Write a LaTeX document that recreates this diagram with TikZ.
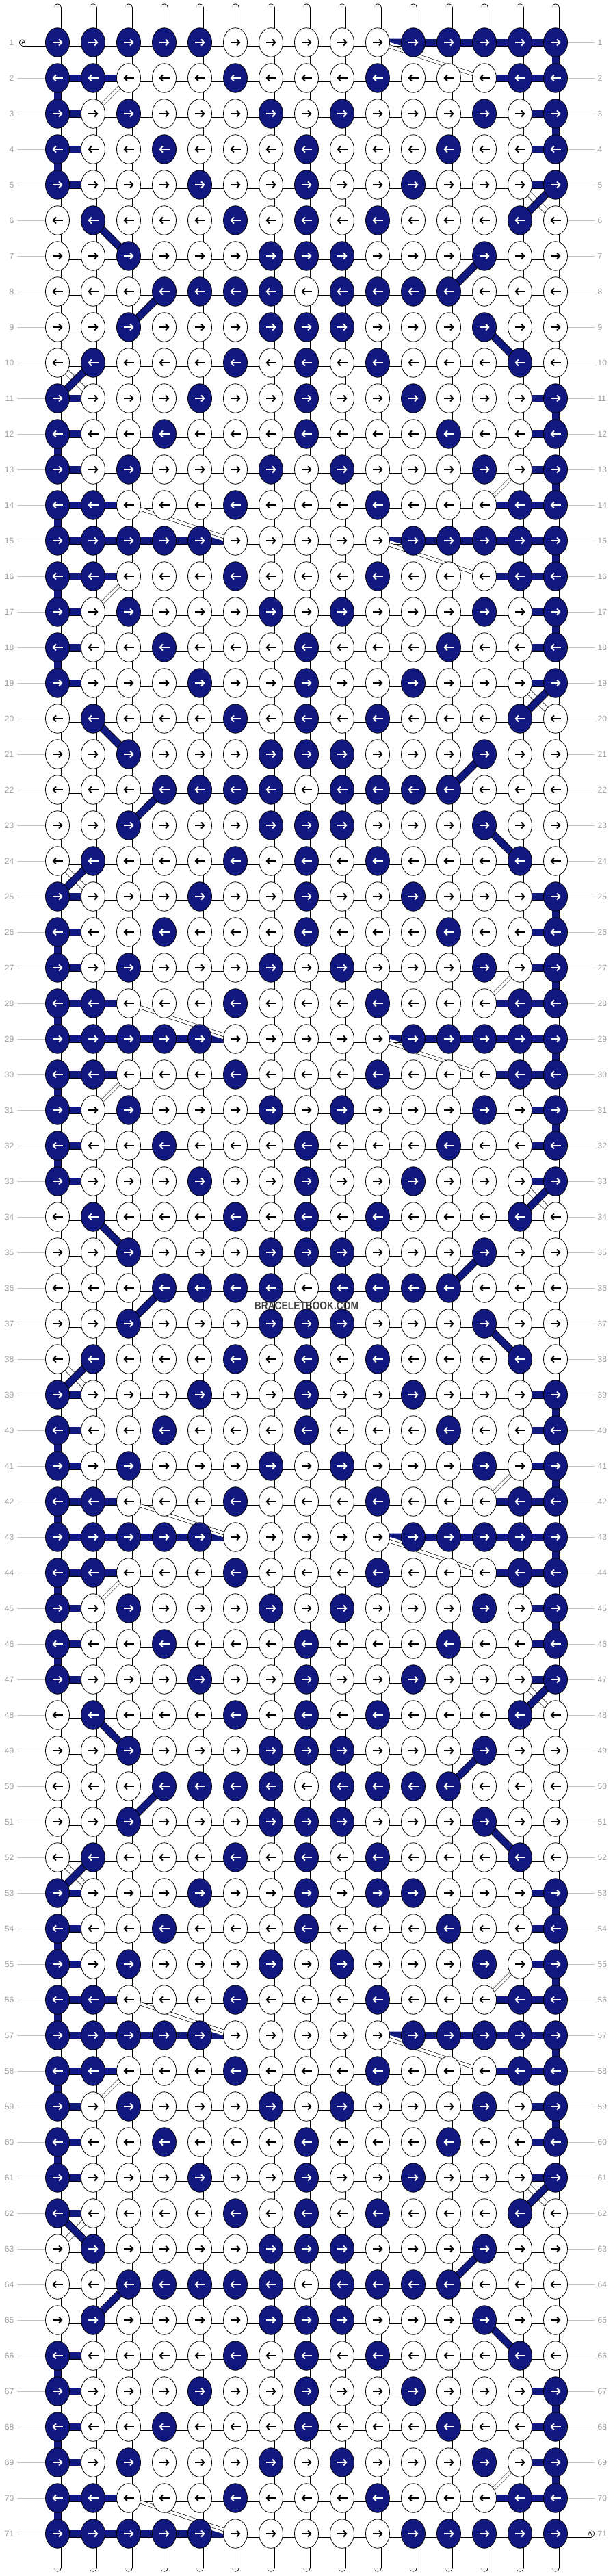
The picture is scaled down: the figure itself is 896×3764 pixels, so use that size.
\documentclass[tikz,border=0pt]{standalone}
\usepackage{fontspec}
\setmainfont{Liberation Sans}
\usetikzlibrary{arrows.meta,shapes.geometric}
\definecolor{nv}{RGB}{17,24,128}
\definecolor{lblc}{RGB}{155,155,155}
\definecolor{lnc}{RGB}{192,192,192}
\pgfdeclarelayer{bg}
\pgfdeclarelayer{mid}
\pgfsetlayers{bg,mid,main}
\newcount\kbl
\tikzset{
 knotw/.style={ellipse,draw=black,line width=.8pt,fill=white,minimum width=35pt,minimum height=42.5pt,inner sep=0pt,outer sep=0pt},
 knotb/.style={knotw,fill=nv},
 arrw/.style={line width=2pt,-{Straight Barb[length=4pt,width=9pt]}},
 hw/.style={draw=black,line width=.8pt,double=white,double distance=9.4pt},
 hb/.style={draw=black,line width=.8pt,double=nv,double distance=9.4pt},
 vw/.style={hw,postaction={draw=gray!55,line width=.5pt,double=white,double distance=3.5pt}},
 dwt/.style={draw=black,line width=.6pt,double=white,double distance=4pt},
 dwk/.style={draw=black,line width=.7pt,double=white,double distance=7pt},
 lbl/.style={draw=lnc,line width=.9pt},
 num/.style={text=lblc,font=\fontsize{12}{12}\selectfont,inner sep=0pt},
}
\newcommand\kr[2]{%
 \foreach \c in {1,...,15}{%
  \global\kbl=0
  \foreach \b in {#2}{\ifnum\b=\c\relax\global\kbl=1\fi}%
  \ifnum\kbl=1
   \node[knotb] (k#1-\c) at ({84+52*(\c-1)},{62+52*(#1-1)}) {};
   \def\ac{white}%
  \else
   \node[knotw] (k#1-\c) at ({84+52*(\c-1)},{62+52*(#1-1)}) {};
   \def\ac{black}%
  \fi
  \ifodd#1\relax
   \draw[arrw,color=\ac] ([xshift=-7.5pt]k#1-\c.center) -- ([xshift=7.5pt]k#1-\c.center);
  \else
   \draw[arrw,color=\ac] ([xshift=7.5pt]k#1-\c.center) -- ([xshift=-7.5pt]k#1-\c.center);
  \fi
 }}
\newcommand\HB[2]{\foreach \c in {#2}{\pgfmathtruncatemacro\cn{\c+1}\draw[hb] (k#1-\c.center) -- (k#1-\cn.center);}}
\newcommand\DG[5]{\pgfmathtruncatemacro\ra{#2}\pgfmathtruncatemacro\rb{#4}\draw[#1] (k\ra-#3.center) -- (k\rb-#5.center);}
\newcommand\WL[1]{\fill[nv] ([xshift=-2pt,yshift=5.5pt]k#1-5.east) -- ([xshift=2pt,yshift=-1pt]k#1-6.west) -- ([xshift=2pt,yshift=-5.5pt]k#1-6.west) -- ([xshift=-2pt,yshift=-5.5pt]k#1-5.east) -- cycle;}
\newcommand\WR[1]{\fill[nv] ([xshift=2pt,yshift=-5.5pt]k#1-11.west) -- ([xshift=-2pt,yshift=1pt]k#1-10.east) -- ([xshift=-2pt,yshift=5.5pt]k#1-10.east) -- ([xshift=2pt,yshift=5.5pt]k#1-11.west) -- cycle;}
\begin{document}
\begin{tikzpicture}[x=1pt,y=-1pt]
\useasboundingbox (0,0) rectangle (896,3764);
% ---------------- knots ----------------
\kr{1}{1,2,3,4,5,11,12,13,14,15}
\kr{2}{1,2,6,10,14,15}
\kr{3}{1,3,7,9,13,15}
\kr{4}{1,4,8,12,15}
\kr{5}{1,5,8,11,15}
\kr{6}{2,6,8,10,14}
\kr{7}{3,7,8,9,13}
\kr{8}{4,5,6,7,9,10,11,12}
\kr{9}{3,7,8,9,13}
\kr{10}{2,6,8,10,14}
\kr{11}{1,5,8,11,15}
\kr{12}{1,4,8,12,15}
\kr{13}{1,3,7,9,13,15}
\kr{14}{1,2,6,10,14,15}
\kr{15}{1,2,3,4,5,11,12,13,14,15}
\kr{16}{1,2,6,10,14,15}
\kr{17}{1,3,7,9,13,15}
\kr{18}{1,4,8,12,15}
\kr{19}{1,5,8,11,15}
\kr{20}{2,6,8,10,14}
\kr{21}{3,7,8,9,13}
\kr{22}{4,5,6,7,9,10,11,12}
\kr{23}{3,7,8,9,13}
\kr{24}{2,6,8,10,14}
\kr{25}{1,5,8,11,15}
\kr{26}{1,4,8,12,15}
\kr{27}{1,3,7,9,13,15}
\kr{28}{1,2,6,10,14,15}
\kr{29}{1,2,3,4,5,11,12,13,14,15}
\kr{30}{1,2,6,10,14,15}
\kr{31}{1,3,7,9,13,15}
\kr{32}{1,4,8,12,15}
\kr{33}{1,5,8,11,15}
\kr{34}{2,6,8,10,14}
\kr{35}{3,7,8,9,13}
\kr{36}{4,5,6,7,9,10,11,12}
\kr{37}{3,7,8,9,13}
\kr{38}{2,6,8,10,14}
\kr{39}{1,5,8,11,15}
\kr{40}{1,4,8,12,15}
\kr{41}{1,3,7,9,13,15}
\kr{42}{1,2,6,10,14,15}
\kr{43}{1,2,3,4,5,11,12,13,14,15}
\kr{44}{1,2,6,10,14,15}
\kr{45}{1,3,7,9,13,15}
\kr{46}{1,4,8,12,15}
\kr{47}{1,5,8,11,15}
\kr{48}{2,6,8,10,14}
\kr{49}{3,7,8,9,13}
\kr{50}{4,5,6,7,9,10,11,12}
\kr{51}{3,7,8,9,13}
\kr{52}{2,6,8,10,14}
\kr{53}{1,5,8,10,11,15}
\kr{54}{1,4,8,12,15}
\kr{55}{1,3,7,9,13,15}
\kr{56}{1,2,6,10,14,15}
\kr{57}{1,2,3,4,5,11,12,13,14,15}
\kr{58}{1,2,6,10,14,15}
\kr{59}{1,3,7,9,13,15}
\kr{60}{1,4,8,12,15}
\kr{61}{1,5,8,11,15}
\kr{62}{1,6,8,10,14}
\kr{63}{2,7,8,9,13}
\kr{64}{3,4,5,6,7,9,10,11,12}
\kr{65}{2,7,8,9,13}
\kr{66}{1,6,8,10,14}
\kr{67}{1,5,8,11,15}
\kr{68}{1,4,8,12,15}
\kr{69}{1,3,7,9,13,15}
\kr{70}{1,2,6,10,14,15}
\kr{71}{1,2,3,4,5,11,12,13,14,15}
% ---------------- strings (background) ----------------
\begin{pgfonlayer}{bg}
\foreach \c in {1,...,15}{
  \coordinate (t\c) at ({84+52*(\c-1)},11);
  \coordinate (b\c) at ({84+52*(\c-1)},3752);
  \draw[vw,line cap=round] (t\c) -- (k1-\c.center);
  \draw[vw,line cap=round] (k71-\c.center) -- (b\c);
}
\foreach \r in {1,...,70}{
  \pgfmathtruncatemacro\rn{\r+1}
  \foreach \c in {1,...,15}{\draw[vw] (k\r-\c.center) -- (k\rn-\c.center);}
}
\foreach \r in {1,...,71}{
  \foreach \c in {1,...,14}{\pgfmathtruncatemacro\cn{\c+1}\draw[hw] (k\r-\c.center) -- (k\r-\cn.center);}
}
% working string A
\coordinate (aL) at (33.5,62);
\coordinate (aR) at (863.5,3702);
\draw[hw,line cap=round] (aL) -- (k1-1.center);
\draw[hw,line cap=round] (k71-15.center) -- (aR);
% blue vertical segments
\foreach \r in {1,2,3,4,11,12,13,14,15,16,17,18,25,26,27,28,29,30,31,32,39,40,41,42,43,44,45,46,53,54,55,56,57,58,59,60,66,67,68,69,70}{
  \pgfmathtruncatemacro\rn{\r+1}
  \ifodd\r\relax\def\cc{15}\else\def\cc{1}\fi
  \draw[hb] (k\r-\cc.center) -- (k\rn-\cc.center);
}
% blue horizontal segments
\HB{1}{11,12,13,14}
\foreach \r in {3,4,5,11,12,13,17,18,19,25,26,27,31,32,33,39,40,41,45,46,47,53,54,55,59,60,61,67,68,69}{\HB{\r}{1,14}}
\foreach \r in {2,14,16,28,30,42,44,56,58,70}{\HB{\r}{1,2,13,14}}
\foreach \r in {15,29,43,57}{\HB{\r}{1,2,3,4,11,12,13,14}}
\HB{71}{1,2,3,4}
\HB{62}{1}
\HB{66}{1}
\foreach \r in {1,15,29,43,57}{\WR{\r}}
\foreach \r in {15,29,43,57,71}{\WL{\r}}
% row label lines
\foreach \r in {2,...,71}{\coordinate (ll\r) at (26,{62+52*(\r-1)}); \draw[lbl] (ll\r) -- (k\r-1);}
\foreach \r in {1,...,70}{\coordinate (lr\r) at (869,{62+52*(\r-1)}); \draw[lbl] (k\r-15) -- (lr\r);}
\end{pgfonlayer}
% ---------------- diagonal strings ----------------
\begin{pgfonlayer}{mid}
\foreach \o in {0,14,28,42}{
 \DG{dwt}{1+\o}{10}{2+\o}{13}
 \DG{dwt}{2+\o}{3}{3+\o}{2}
 \DG{dwt}{13+\o}{14}{14+\o}{13}
 \DG{dwt}{14+\o}{3}{15+\o}{6}
 \DG{dwk}{5+\o}{14}{6+\o}{15}
 \DG{dwk}{10+\o}{1}{11+\o}{2}
}
\DG{dwt}{57}{10}{58}{13}
\DG{dwt}{58}{3}{59}{2}
\DG{dwt}{69}{14}{70}{13}
\DG{dwt}{70}{3}{71}{6}
\DG{dwk}{61}{14}{62}{15}
\DG{dwk}{62}{2}{63}{1}
\foreach \o in {0,14,28,42}{
 \DG{hb}{5+\o}{15}{6+\o}{14}
 \DG{hb}{6+\o}{2}{7+\o}{3}
 \DG{hb}{7+\o}{13}{8+\o}{12}
 \DG{hb}{8+\o}{4}{9+\o}{3}
 \DG{hb}{9+\o}{13}{10+\o}{14}
 \DG{hb}{10+\o}{2}{11+\o}{1}
}
\DG{hb}{61}{15}{62}{14}
\DG{hb}{62}{1}{63}{2}
\DG{hb}{63}{13}{64}{12}
\DG{hb}{64}{3}{65}{2}
\DG{hb}{65}{13}{66}{14}
\end{pgfonlayer}
% ---------------- texts ----------------
\node[font=\fontsize{10}{10}\selectfont,inner sep=0pt] (aLt) at (34.5,62.5) {A};
\node[font=\fontsize{10}{10}\selectfont,inner sep=0pt] (aRt) at (862.5,3702.5) {A};
\foreach \r in {1,...,71}{
  \node[num,anchor=east] (nl\r) at (20.5,{62+52*(\r-1)}) {\r};
  \node[num,anchor=west] (nr\r) at (873.5,{62+52*(\r-1)}) {\r};
}
\node[inner sep=0pt,text=black!75,font=\fontsize{16}{16}\selectfont\bfseries] (wm) at (448,1907.5) {\scalebox{0.86}[1]{BRACELETBOOK.COM}};
\end{tikzpicture}
\end{document}
